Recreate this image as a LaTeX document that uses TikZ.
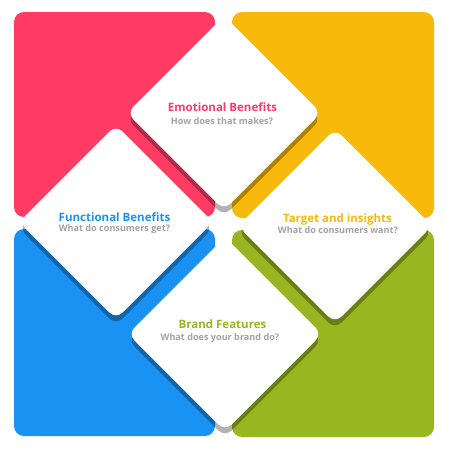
\documentclass[tikz,border=0pt]{standalone}
\usepackage{fontspec}
\setmainfont{Open Sans}
\definecolor{cred}{HTML}{FF3A63}
\definecolor{cyel}{HTML}{F8BA0A}
\definecolor{cblu}{HTML}{1A92F3}
\definecolor{cgrn}{HTML}{97B620}
\definecolor{cgry}{HTML}{A3A3A3}
\begin{document}
\begin{tikzpicture}[x=1pt,y=-1pt,
  quad/.style={rounded corners=10pt},
  dshadow/.style={fill=black,fill opacity=0.3,rounded corners=9pt},
  dface/.style={fill=white,rounded corners=9pt},
  ttl/.style={font=\fontsize{11.5}{13}\selectfont\bfseries,anchor=base,inner sep=0pt},
  sub/.style={font=\fontsize{9.1}{10}\selectfont\bfseries,text=cgry,anchor=base,inner sep=0pt}]
\useasboundingbox (0,0) rectangle (450,450);
% quadrants
\fill[quad,cred] (14,12) rectangle (215,217);
\fill[quad,cyel] (232,12) rectangle (434,218);
\fill[quad,cblu] (14,229) rectangle (215,436);
\fill[quad,cgrn] (232,230) rectangle (434,437);
% diamond shadows
\foreach \cx/\cy in {224/113,116/222,335/226,225/334}{
  \fill[dshadow] (\cx-97,\cy+6) -- (\cx,\cy-91) -- (\cx+97,\cy+6) -- (\cx,\cy+103) -- cycle;
}
% diamond faces
\foreach \cx/\cy in {224/113,116/222,335/226,225/334}{
  \fill[dface] (\cx-97,\cy) -- (\cx,\cy-97) -- (\cx+97,\cy) -- (\cx,\cy+97) -- cycle;
}
% texts
\node[ttl,text=cred] (emo) at (222.5,111.7) {Emotional Benefits};
\node[sub] (emoq) at (222,124) {How does that makes?};
\node[ttl,text=cblu] (fun) at (114.5,221) {Functional Benefits};
\node[sub] (funq) at (114.5,231.5) {What do consumers get?};
\node[ttl,text=cyel] (tar) at (337.5,222) {Target and insights};
\node[sub] (tarq) at (338,233) {What do consumers want?};
\node[ttl,text=cgrn] (bra) at (222.5,328.7) {Brand Features};
\node[sub] (braq) at (220,340) {What does your brand do?};
\end{tikzpicture}
\end{document}
